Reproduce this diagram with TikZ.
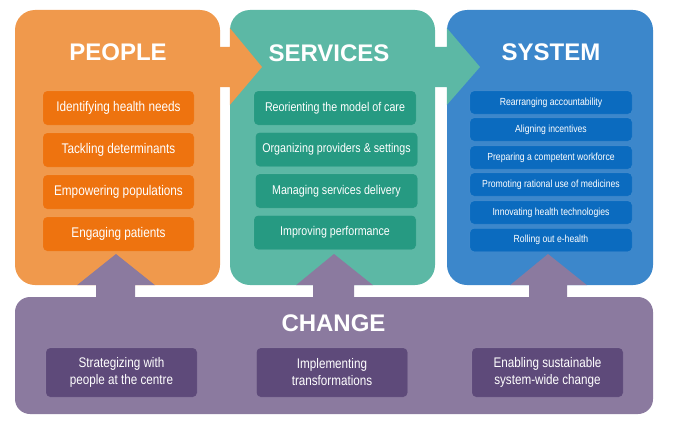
\documentclass[tikz,border=0pt]{standalone}
\usepackage{fontspec}
\setmainfont{Liberation Sans}
\newfontfamily\narrowfont{Liberation Sans}[FakeStretch=0.84]
\usetikzlibrary{calc}
\definecolor{peoplelight}{HTML}{F0994C}
\definecolor{peopledark}{HTML}{EE730F}
\definecolor{serviceslight}{HTML}{5CB8A5}
\definecolor{servicesdark}{HTML}{269A82}
\definecolor{systemlight}{HTML}{3C87CB}
\definecolor{systemdark}{HTML}{0B6BBF}
\definecolor{changelight}{HTML}{8B7A9F}
\definecolor{changedark}{HTML}{5E4A7A}
\tikzset{
	panel/.style={rounded corners=20, minimum width=205, minimum height=275, inner sep=0},
	heading/.style={text=white, font=\bfseries\fontsize{24}{28}\selectfont},
	item/.style={rounded corners=4, inner sep=0, text=white, draw=white, draw opacity=0.12},
	peoplebox/.style={item, fill=peopledark, minimum width=151, minimum height=34, font=\narrowfont\fontsize{14}{16}\selectfont},
	servicesbox/.style={item, fill=servicesdark, minimum width=162, minimum height=34, font=\narrowfont\fontsize{12.7}{15}\selectfont},
	systembox/.style={item, fill=systemdark, minimum width=162, minimum height=23, font=\narrowfont\fontsize{10.3}{12}\selectfont},
	changebox/.style={item, fill=changedark, minimum width=151, minimum height=49, align=center, font=\narrowfont\fontsize{13.9}{17}\selectfont}
}

\begin{document}
\begin{tikzpicture}[x=1pt,y=-1pt]
	\useasboundingbox (0,0) rectangle (676,428);
	\node[panel, fill=peoplelight] (people) at (117.5,147.5) {};
	\node[panel, fill=serviceslight] (services) at (332.5,147.5) {};
	\node[panel, fill=systemlight, minimum width=206] (system) at (550,147.5) {};
	\node[panel, fill=changelight, rounded corners=15, minimum width=638, minimum height=117] (change) at (334,355.5) {};

	\coordinate (ps) at (262,67);
	\coordinate (ss) at (480,67);
	\coordinate (cp) at (116,254);
	\coordinate (cs) at (334,254);
	\coordinate (cy) at (548,254);

	\fill[peoplelight] ($(people.east |- 0,47)+(-5,0)$) -- (services.west |- 0,47) -- (services.west |- 0,28) -- (ps) -- (services.west |- 0,105) -- (services.west |- 0,87) -- ($(people.east |- 0,87)+(-5,0)$) -- cycle;
	\fill[serviceslight] ($(services.east |- 0,47)+(-5,0)$) -- (system.west |- 0,47) -- (system.west |- 0,28) -- (ss) -- (system.west |- 0,105) -- (system.west |- 0,87) -- ($(services.east |- 0,87)+(-5,0)$) -- cycle;

	\fill[changelight] ($(change.north -| 96,0)+(0,4)$) -- (people.south -| 96,0) -- (people.south -| 77,0) -- (cp) -- (people.south -| 155,0) -- (people.south -| 135,0) -- ($(change.north -| 135,0)+(0,4)$) -- cycle;
	\fill[changelight] ($(change.north -| 313,0)+(0,4)$) -- (services.south -| 313,0) -- (services.south -| 296,0) -- (cs) -- (services.south -| 373,0) -- (services.south -| 354,0) -- ($(change.north -| 354,0)+(0,4)$) -- cycle;
	\fill[changelight] ($(change.north -| 529,0)+(0,4)$) -- (system.south -| 529,0) -- (system.south -| 510,0) -- (cy) -- (system.south -| 587,0) -- (system.south -| 567,0) -- ($(change.north -| 567,0)+(0,4)$) -- cycle;

	\node[heading] (peopletitle) at (118,52.5) {PEOPLE};
	\node[heading] (servicestitle) at (329,53) {SERVICES};
	\node[heading] (systemtitle) at (551,52.5) {SYSTEM};
	\node[heading] (changetitle) at (333.5,323.5) {CHANGE};

	\node[peoplebox] (p1) at (118.5,108) {Identifying health needs};
	\node[peoplebox] (p2) at (118.5,150) {Tackling determinants};
	\node[peoplebox] (p3) at (118.5,192) {Empowering populations};
	\node[peoplebox] (p4) at (118.5,234) {Engaging patients};

	\node[servicesbox] (s1) at (335,108) {Reorienting the model of care};
	\node[servicesbox] (s2) at (336.5,149.5) {Organizing providers \& settings};
	\node[servicesbox] (s3) at (336.5,191) {Managing services delivery};
	\node[servicesbox] (s4) at (335,232.5) {Improving performance};

	\node[systembox] (y1) at (551,102.5) {Rearranging accountability};
	\node[systembox] (y2) at (551,129.5) {Aligning incentives};
	\node[systembox] (y3) at (551,157.5) {Preparing a competent workforce};
	\node[systembox] (y4) at (551,184.5) {Promoting rational use of medicines};
	\node[systembox] (y5) at (551,212.5) {Innovating health technologies};
	\node[systembox] (y6) at (551,240) {Rolling out e-health};

	\node[changebox] (c1) at (121.5,372.5) {Strategizing with\\people at the centre};
	\node[changebox] (c2) at (332,372.5) {Implementing\\transformations};
	\node[changebox] (c3) at (547.5,372.5) {Enabling sustainable\\system-wide change};
\end{tikzpicture}
\end{document}
